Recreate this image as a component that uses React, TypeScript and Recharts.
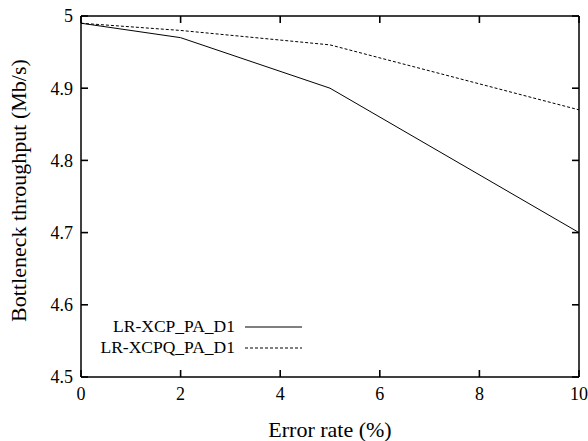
import React from "react";
import { LineChart, Line, XAxis, YAxis, Legend } from "recharts";

const errorRates = [0, 2, 5, 10];
const xcpThroughput = [4.99, 4.97, 4.9, 4.7];
const xcpqThroughput = [4.99, 4.98, 4.96, 4.87];
const xTicks = [0, 2, 4, 6, 8, 10];
const yTicks = [4.5, 4.6, 4.7, 4.8, 4.9, 5];
const seriesNames = ["LR-XCP_PA_D1", "LR-XCPQ_PA_D1"];
const xLabel = "Error rate (%)";
const yLabel = "Bottleneck throughput (Mb/s)";

const data = errorRates.map((x, i) => ({
  x,
  xcp: xcpThroughput[i],
  xcpq: xcpqThroughput[i],
}));

const FONT = '"Liberation Serif", "Times New Roman", Times, serif';
const TICK_LEN = 7;
const TICK_W = 1.6;
const TICK_FONT = 18;
const BOTTOM_MARGIN = 10;
const LEFT_MARGIN = 8;
// plot frame (layout constants)
const PLOT_TOP = 16;
const PLOT_BOTTOM = 377;
const PLOT_LEFT = 81;
const PLOT_RIGHT = 579;

const fmtY = (v: number) => (v === 5 ? "5" : v.toFixed(1));

const TickMark = ({ x1, x2, y1, y2 }: any) => (
  <path
    d={`M${x1},${y1}L${x2},${y2}`}
    stroke="#000"
    strokeWidth={TICK_W}
    fill="none"
  />
);

const BottomTick = (props: any) => {
  const { x, y, payload } = props;
  return (
    <g>
      <TickMark x1={x} x2={x} y1={PLOT_BOTTOM} y2={PLOT_BOTTOM - TICK_LEN} />
      <text
        x={x}
        y={y}
        dy="0.71em"
        textAnchor="middle"
        fontSize={TICK_FONT}
        fill="#000"
        style={{ fontFamily: FONT }}
      >
        {payload.value}
      </text>
    </g>
  );
};

const TopTick = (props: any) => {
  const { x } = props;
  return (
    <g>
      <TickMark x1={x} x2={x} y1={PLOT_TOP} y2={PLOT_TOP + TICK_LEN} />
    </g>
  );
};

const LeftTick = (props: any) => {
  const { x, y, payload } = props;
  return (
    <g>
      <TickMark x1={PLOT_LEFT} x2={PLOT_LEFT + TICK_LEN} y1={y} y2={y} />
      <text
        x={x}
        y={y}
        dy="0.355em"
        textAnchor="end"
        fontSize={TICK_FONT}
        fill="#000"
        style={{ fontFamily: FONT }}
      >
        {fmtY(payload.value)}
      </text>
    </g>
  );
};

const RightTick = (props: any) => {
  const { y } = props;
  return (
    <g>
      <TickMark x1={PLOT_RIGHT} x2={PLOT_RIGHT - TICK_LEN} y1={y} y2={y} />
    </g>
  );
};

const LegendContent = () => {
  const rows = [
    { name: seriesNames[0], dash: undefined as string | undefined },
    { name: seriesNames[1], dash: "3 2" },
  ];
  return (
    <div style={{ fontFamily: FONT, fontSize: 17.5, color: "#000" }}>
      {rows.map((r) => (
        <div
          key={r.name}
          style={{ display: "flex", alignItems: "center", height: 21 }}
        >
          <div style={{ width: 235, textAlign: "right", whiteSpace: "nowrap" }}>
            {r.name}
          </div>
          <svg width={68} height={21} style={{ display: "block" }}>
            <line
              x1={10}
              x2={67}
              y1={11}
              y2={11}
              stroke="#000"
              strokeWidth={1}
              strokeDasharray={r.dash}
            />
          </svg>
        </div>
      ))}
    </div>
  );
};

export default function App() {
  const axisLine = { stroke: "#000", strokeWidth: 1.5 };
  return (
    <div
      style={{
        position: "absolute",
        left: 0,
        top: 0,
        width: 588,
        height: 441,
        background: "#fff",
        fontFamily: FONT,
      }}
    >
      <LineChart
        width={588}
        height={441}
        data={data}
        margin={{ top: 15, right: 0, bottom: 0, left: 0 }}
        style={{ fontFamily: FONT }}
      >
        <XAxis
          xAxisId="b"
          dataKey="x"
          type="number"
          domain={[0, 10]}
          ticks={xTicks}
          height={64}
          tickSize={0}
          tickMargin={BOTTOM_MARGIN}
          tick={<BottomTick />}
          tickLine={false}
          axisLine={axisLine}
          interval={0}
          label={{
            content: (props: any) => {
              const vb = props.viewBox || {};
              return (
                <text
                  x={vb.x + vb.width / 2}
                  y={437}
                  textAnchor="middle"
                  fontSize={22}
                  style={{ fontFamily: FONT }}
                  fill="#000"
                >
                  {xLabel}
                </text>
              );
            },
          }}
        />
        <XAxis
          xAxisId="t"
          orientation="top"
          dataKey="x"
          type="number"
          domain={[0, 10]}
          ticks={xTicks}
          height={1}
          tickSize={0}
          tickMargin={0}
          tick={<TopTick />}
          tickLine={false}
          axisLine={axisLine}
          interval={0}
        />
        <YAxis
          yAxisId="l"
          type="number"
          domain={[4.5, 5]}
          ticks={yTicks}
          width={81}
          tickSize={0}
          tickMargin={LEFT_MARGIN}
          tick={<LeftTick />}
          tickLine={false}
          axisLine={axisLine}
          interval={0}
          allowDataOverflow
          label={{
            content: (props: any) => {
              const vb = props.viewBox || {};
              const cy = vb.y + vb.height / 2 - 6;
              return (
                <text
                  x={26}
                  y={cy}
                  transform={`rotate(-90, 26, ${cy})`}
                  textAnchor="middle"
                  fontSize={22}
                  style={{ fontFamily: FONT }}
                  fill="#000"
                >
                  {yLabel}
                </text>
              );
            },
          }}
        />
        <YAxis
          yAxisId="r"
          orientation="right"
          type="number"
          domain={[4.5, 5]}
          ticks={yTicks}
          width={9}
          tickSize={0}
          tickMargin={0}
          tick={<RightTick />}
          tickLine={false}
          axisLine={axisLine}
          interval={0}
          allowDataOverflow
        />
        <Legend
          layout="horizontal"
          verticalAlign="middle"
          align="center"
          content={<LegendContent />}
          wrapperStyle={{ position: "absolute", left: 0, top: 316, width: 320 }}
        />
        <Line
          xAxisId="b"
          yAxisId="l"
          dataKey="xcp"
          name={seriesNames[0]}
          stroke="#000"
          strokeWidth={1}
          dot={false}
          isAnimationActive={false}
        />
        <Line
          xAxisId="b"
          yAxisId="l"
          dataKey="xcpq"
          name={seriesNames[1]}
          stroke="#000"
          strokeWidth={1}
          strokeDasharray="3 2"
          dot={false}
          isAnimationActive={false}
        />
      </LineChart>
    </div>
  );
}
